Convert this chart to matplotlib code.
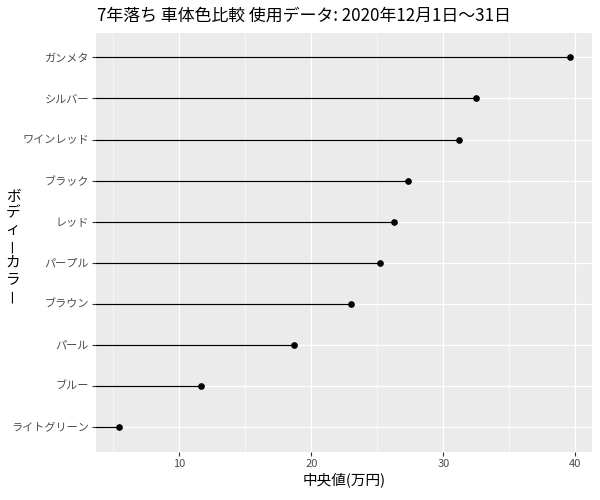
import numpy as np
import matplotlib
matplotlib.use("Agg")
import matplotlib.pyplot as plt

plt.rcParams['font.family'] = ['Noto Sans CJK JP', 'DejaVu Sans']

# データ (下から上の順)
colors = ['ライトグリーン', 'ブルー', 'パール', 'ブラウン', 'パープル',
          'レッド', 'ブラック', 'ワインレッド', 'シルバー', 'ガンメタ']
median_price = [5.41, 11.62, 18.7, 22.97, 25.23, 26.28, 27.33, 31.18, 32.5, 39.57]
x_ticks = [10, 20, 30, 40]
x_minor = [5, 15, 25, 35]

title = '7年落ち 車体色比較 使用データ: 2020年12月1日～31日'
xlabel = '中央値(万円)'
ylabel = 'ボディーカラー'

fig = plt.figure(figsize=(6, 5), dpi=100)
ax = fig.add_axes([0.16, 0.0966, 0.8262, 0.838])
ax.set_facecolor('#EBEBEB')

y = np.arange(len(colors))
ax.set_xlim(3.69, 41.24)
ax.set_ylim(-0.6, len(colors) - 0.4)

# グリッド
for v in x_minor:
    ax.axvline(v, color='white', lw=0.45, zorder=0)
for v in x_ticks:
    ax.axvline(v, color='white', lw=0.9, zorder=0)
for v in y:
    ax.axhline(v, color='white', lw=0.9, zorder=0)

ax.hlines(y, 0, median_price, color='black', lw=0.85, zorder=2)
ax.plot(median_price, y, 'o', color='black', ms=3.8, zorder=3)

ax.set_xticks(x_ticks)
ax.set_xticklabels([str(t) for t in x_ticks])
ax.set_yticks(y)
ax.set_yticklabels(colors)
ax.tick_params(axis='both', length=3, width=0.8, color='#333333',
               labelsize=8.0, labelcolor='#4D4D4D', pad=2)
for s in ax.spines.values():
    s.set_visible(False)

ax.set_xlabel(xlabel, fontsize=10.5, labelpad=3)
fig.text(0.1612, 0.968, title, fontsize=12.2, ha='left', va='center')

# 縦書きの軸タイトル
yc = 1 - 246 / 500
step = 16.5 / 500
n = len(ylabel)
for i, ch in enumerate(ylabel):
    yy = yc + (n - 1) / 2 * step - i * step
    rot = 90 if ch == 'ー' else 0
    fig.text(13 / 600, yy, ch, fontsize=10.5, ha='center', va='center', rotation=rot)

fig.savefig('out.png', dpi=100)
